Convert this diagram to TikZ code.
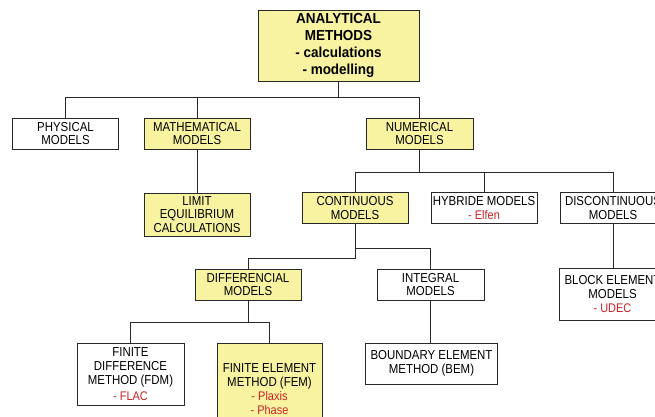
\documentclass[tikz,border=0pt]{standalone}
\usepackage{fontspec}
\newfontfamily\boxfont{Liberation Sans}[FakeStretch=0.88]
\newfontfamily\headfont{Liberation Sans}[FakeStretch=0.93]
\definecolor{linegray}{RGB}{40,40,40}
\definecolor{boxyellow}{RGB}{247,243,160}
\definecolor{labelred}{RGB}{200,35,40}
\newcommand{\redline}[1]{{\color{labelred}\fontsize{12.5}{14}\selectfont #1}}
\tikzset{
  box/.style={draw=linegray, line width=1pt, fill=white, minimum width=106pt,
    minimum height=31pt, inner sep=1pt, align=center,
    font=\boxfont\fontsize{13}{13.8}\selectfont},
  ybox/.style={box, fill=boxyellow},
  link/.style={draw=linegray, line width=1pt}
}

\begin{document}
\begin{tikzpicture}[x=1pt, y=-1pt]
\useasboundingbox (0,0) rectangle (655,416);

\node[ybox, minimum width=161pt, minimum height=71pt,
  font=\headfont\bfseries\fontsize{14.5}{17}\selectfont] (analyt) at (338.5,45.5)
  {ANALYTICAL\\METHODS\\- calculations\\- modelling};

\node[box] (phys) at (65.5,133.5) {PHYSICAL\\MODELS};
\node[ybox] (math) at (197,133.5) {MATHEMATICAL\\MODELS};
\node[ybox, minimum width=107pt] (num) at (419.5,133.5) {NUMERICAL\\MODELS};

\node[ybox, minimum height=43pt] (limit) at (197,214.5) {LIMIT\\EQUILIBRIUM\\CALCULATIONS};
\node[ybox] (cont) at (355,208) {CONTINUOUS\\MODELS};
\node[box] (hyb) at (484,208) {HYBRIDE MODELS\\\redline{- Elfen}};
\node[box] (disc) at (613,208) {DISCONTINUOUS\\MODELS};

\node[ybox] (diff) at (248,284.5) {DIFFERENCIAL\\MODELS};
\node[box, minimum width=107pt] (integ) at (430.5,284.5) {INTEGRAL\\MODELS};
\node[box, minimum width=107pt, minimum height=52pt] (block) at (612.5,294)
  {BLOCK ELEMENT\\MODELS\\\redline{- UDEC}};

\node[box, minimum width=107pt, minimum height=62pt] (fdm) at (130.5,374)
  {FINITE\\DIFFERENCE\\METHOD (FDM)\\[2pt]\redline{- FLAC}};
\node[ybox, minimum width=105pt, minimum height=92pt] (fem) at (269.5,389)
  {FINITE ELEMENT\\METHOD (FEM)\\\redline{- Plaxis}\\\redline{- Phase}};
\node[box, minimum width=132pt, minimum height=41pt] (bem) at (431.5,363.5)
  {BOUNDARY ELEMENT\\METHOD (BEM)};

\draw[link] (analyt.south) -- ++(0,16) -| (phys.north);
\draw[link] (analyt.south) -- ++(0,16) -| (math.north);
\draw[link] (analyt.south) -- ++(0,16) -| (num.north);

\draw[link] (math.south) -- (limit.north);

\draw[link] (num.south) -- ++(0,23) -| (cont.north);
\draw[link] (num.south) -- ++(0,23) -| (hyb.north);
\draw[link] (num.south) -- ++(0,23) -| (disc.north);

\draw[link] (cont.south) -- ++(0,34) -| (diff.north);
\draw[link] (cont.south) -- ++(0,24) -| (integ.north);
\draw[link] (disc.south) -- (disc.south |- block.north);

\draw[link] (diff.south) -- ++(0,22) -| (fdm.north);
\draw[link] (diff.south) -- ++(0,22) -| (fem.north);
\draw[link] (integ.south) -- (integ.south |- bem.north);
\end{tikzpicture}
\end{document}
